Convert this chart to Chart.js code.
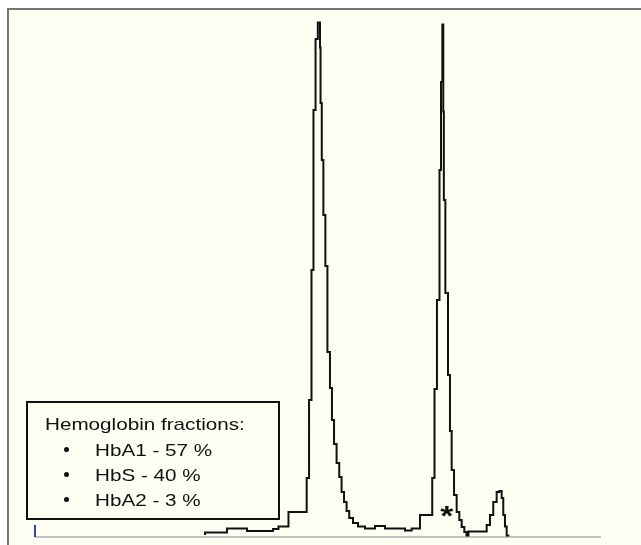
<!DOCTYPE html>
<html>
<head>
<meta charset="utf-8">
<script src="https://cdn.jsdelivr.net/npm/chart.js@4.4.0/dist/chart.umd.min.js"></script>
<style>
    html, body { margin: 0; padding: 0; background: #fff; }
    body { width: 641px; height: 545px; position: relative; overflow: hidden;
           font-family: 'Liberation Sans', Arial, Helvetica, sans-serif; }
    #frame { position: absolute; left: 7px; top: 8px; right: 0; bottom: 0; background: #fffef2;
             border-left: 2px solid #777; border-top: 2px solid #777; }
    #chart { position: absolute; left: 0; top: 0; }
    #fractions { position: absolute; left: 26px; top: 401px; width: 254px; height: 119px;
                 box-sizing: border-box; border: 2px solid #111; }
    .txt { position: absolute; font-size: 17px; line-height: 17px; color: #111; white-space: nowrap;
           transform: scaleX(1.215); transform-origin: 0 0; }
    .dot { position: absolute; width: 5px; height: 5px; border-radius: 50%; background: #111; }
</style>
</head>
<body>
<div id="frame"></div>
<canvas id="chart" width="641" height="545"></canvas>
<div id="fractions"></div>
<div class="txt" style="left:45px; top:416px;">Hemoglobin fractions:</div>
<div id="items"></div>

<script>
// ============================================
// HPLC trace - hemoglobin fractions
// ============================================

// Retention time (min) of each step of the trace
const retentionMin = [
    1.802, 2.035, 2.247, 2.523, 2.581, 2.687, 2.880, 2.905, 2.931, 2.952,
    2.974, 2.998, 3.021, 3.027, 3.040, 3.057, 3.078, 3.100, 3.127, 3.148,
    3.170, 3.197, 3.225, 3.250, 3.276, 3.303, 3.331, 3.371, 3.424, 3.498,
    3.604, 3.710, 3.922, 3.993, 4.081, 4.211, 4.235, 4.261, 4.288, 4.304,
    4.318, 4.328, 4.334, 4.350, 4.378, 4.399, 4.417, 4.442, 4.470, 4.498,
    4.523, 4.551, 4.574, 4.595, 4.788, 4.823, 4.858, 4.894, 4.922, 4.947,
    4.964, 4.982, 5.000, 5.028
];

// Detector signal (AU) at each step
const absorbance = [
    0.004, 0.009, 0.017, 0.012, 0.016, 0.021, 0.050, 0.118, 0.274, 0.534,
    0.854, 0.996, 1.029, 0.979, 0.868, 0.754, 0.644, 0.542, 0.370, 0.298,
    0.234, 0.186, 0.148, 0.120, 0.090, 0.070, 0.052, 0.038, 0.028, 0.021,
    0.017, 0.022, 0.017, 0.013, 0.017, 0.044, 0.118, 0.296, 0.474, 0.734,
    0.910, 1.025, 0.851, 0.674, 0.488, 0.324, 0.212, 0.134, 0.084, 0.050,
    0.034, 0.020, 0.010, 0.003, 0.011, 0.024, 0.044, 0.070, 0.090, 0.092,
    0.078, 0.044, 0.021, 0.003
];

// Baseline of the run and injection mark
const baselineMin = [0, 6];
const injectionSignal = [0, 0.024];

// Fractions shown in the box
const fractionNames = ['HbA1', 'HbS', 'HbA2'];
const fractionPct = [57, 40, 3];

// Asterisk next to the HbS peak
const asteriskAt = { t: 4.364, v: 0.052 };

// Legend rows
const items = document.getElementById('items');
fractionNames.forEach((nome, i) => {
    const base = 456 + i * 25;
    const dot = document.createElement('div');
    dot.className = 'dot';
    dot.style.left = '64px';
    dot.style.top = (base - 9) + 'px';
    items.appendChild(dot);

    const txt = document.createElement('div');
    txt.className = 'txt';
    txt.style.left = '95px';
    txt.style.top = (base - 14.4) + 'px';
    txt.textContent = `${nome} - ${fractionPct[i]} %`;
    items.appendChild(txt);
});

const asteriskPlugin = {
    id: 'asterisk',
    afterDatasetsDraw(chart) {
        const { ctx, scales: { x, y } } = chart;
        const px = x.getPixelForValue(asteriskAt.t);
        const py = y.getPixelForValue(asteriskAt.v);
        ctx.save();
        ctx.font = 'bold 28px "Liberation Sans", Arial, sans-serif';
        ctx.fillStyle = '#111';
        ctx.textAlign = 'center';
        const m = ctx.measureText('*');
        const base = py + (m.actualBoundingBoxAscent - m.actualBoundingBoxDescent) / 2;
        ctx.translate(px, base);
        ctx.scale(1.2, 1);
        ctx.fillText('*', 0, 0);
        ctx.restore();
    }
};

const trace = retentionMin.map((t, i) => ({ x: t, y: absorbance[i] }));

new Chart(document.getElementById('chart'), {
    type: 'line',
    data: {
        datasets: [
            {
                data: trace,
                stepped: 'after',
                borderColor: '#111',
                borderWidth: 2,
                pointRadius: 0,
                fill: false,
                clip: false,
                order: 0
            },
            {
                data: baselineMin.map(t => ({ x: t, y: 0 })),
                borderColor: '#c2c2c2',
                borderWidth: 2,
                pointRadius: 0,
                clip: false,
                order: 2
            },
            {
                data: injectionSignal.map(v => ({ x: 0, y: v })),
                borderColor: '#2a48a8',
                borderWidth: 2,
                pointRadius: 0,
                clip: false,
                order: 1
            }
        ]
    },
    options: {
        responsive: false,
        animation: false,
        devicePixelRatio: 1,
        layout: { padding: { left: 35, right: 40, top: 17, bottom: 8 } },
        plugins: {
            legend: { display: false },
            tooltip: { enabled: false }
        },
        scales: {
            x: { type: 'linear', min: 0, max: 6, display: false },
            y: { min: 0, max: 1.04, display: false }
        }
    },
    plugins: [asteriskPlugin]
});
</script>
</body>
</html>
